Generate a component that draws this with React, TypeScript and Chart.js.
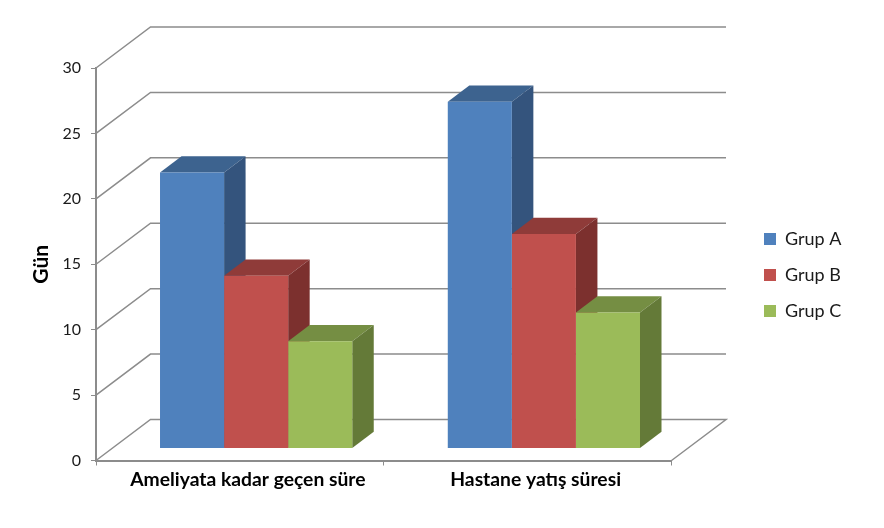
import React, { useEffect, useRef } from "react";
import { Chart, registerables } from "chart.js";

Chart.register(...registerables);

const categories = ["Ameliyata kadar geçen süre", "Hastane yatış süresi"];
const seriesNames = ["Grup A", "Grup B", "Grup C"];
const grupA = [21.1, 26.5];
const grupB = [13.2, 16.4];
const grupC = [8.2, 10.4];
const faceColors = ["#4F81BD", "#C0504D", "#9BBB59"];
const topColors = ["#3D638F", "#8F3B39", "#758E43"];
const sideColors = ["#34547D", "#7C302E", "#647A38"];
const yTicks = [0, 5, 10, 15, 20, 25, 30];
const yTitle = "Gün";

const LINE = "#8C8C8C";
const WALL = { dx: 54.5, dy: -41 };
const BAR_SHIFT = { dx: 16.25, dy: -12 };
const BAR_DEPTH = { dx: 21.5, dy: -16.3 };
const FONT = "Lato, 'Open Sans', sans-serif";

const poly = (ctx: CanvasRenderingContext2D, pts: number[][], fill: string) => {
  ctx.beginPath();
  pts.forEach(([x, y], i) => (i ? ctx.lineTo(x, y) : ctx.moveTo(x, y)));
  ctx.closePath();
  ctx.fillStyle = fill;
  ctx.fill();
};

const threeD = {
  id: "threeD",
  beforeDraw(chart: any) {
    const l = chart.legend;
    const h = l.bottom - l.top;
    l.left = 746;
    l.right = 746 + l.width;
    l.top = 275 - h / 2;
    l.bottom = 275 + h / 2;
  },
  beforeDatasetsDraw(chart: any) {
    const { ctx, chartArea, scales } = chart;
    ctx.save();
    ctx.strokeStyle = LINE;
    ctx.lineWidth = 1.5;
    yTicks.forEach((v) => {
      const y = scales.y.getPixelForValue(v);
      ctx.beginPath();
      ctx.moveTo(chartArea.left, y);
      ctx.lineTo(chartArea.left + WALL.dx, y + WALL.dy);
      ctx.lineTo(chartArea.right + WALL.dx, y + WALL.dy);
      if (v === 0) ctx.lineTo(chartArea.right, y);
      ctx.stroke();
    });
    ctx.restore();

    // Top and side faces go under the library's front faces, series by series.
    ctx.save();
    ctx.translate(BAR_SHIFT.dx, BAR_SHIFT.dy);
    const { dx, dy } = BAR_DEPTH;
    seriesNames.forEach((_, i) => {
      chart.getDatasetMeta(i).data.forEach((bar: any) => {
        const p = bar.getProps(["x", "y", "base", "width"]);
        const l = p.x - p.width / 2;
        const r = p.x + p.width / 2;
        poly(ctx, [[l, p.y], [l + dx, p.y + dy], [r + dx, p.y + dy], [r, p.y]], topColors[i]);
        poly(ctx, [[r, p.y], [r + dx, p.y + dy], [r + dx, p.base + dy], [r, p.base]], sideColors[i]);
      });
    });
    ctx.restore();
  },
  beforeDatasetDraw(chart: any) {
    chart.ctx.save();
    chart.ctx.translate(BAR_SHIFT.dx, BAR_SHIFT.dy);
  },
  afterDatasetDraw(chart: any) {
    chart.ctx.restore();
  },
};

export default function App() {
  const ref = useRef<HTMLCanvasElement>(null);
  useEffect(() => {
    const chart = new Chart(ref.current!, {
      type: "bar",
      data: {
        labels: categories,
        datasets: [grupA, grupB, grupC].map((data, i) => ({
          label: seriesNames[i],
          data,
          backgroundColor: faceColors[i],
          borderWidth: 0,
          categoryPercentage: 0.668,
          barPercentage: 1,
        })),
      },
      options: {
        responsive: false,
        animation: false,
        devicePixelRatio: 1,
        layout: { padding: { top: 68, right: 107, bottom: 0, left: 0 } },
        plugins: {
          tooltip: { enabled: false },
          legend: {
            position: "right",
            labels: {
              boxWidth: 12,
              boxHeight: 12,
              padding: 18,
              color: "#1A1A1A",
              font: { family: FONT, size: 18 },
            },
          },
        },
        scales: {
          x: {
            afterFit: (s: any) => { s.height = 67.5; },
            grid: { drawOnChartArea: false, drawTicks: true, tickLength: 5, color: LINE, offset: true },
            border: { color: LINE, width: 2 },
            ticks: { color: "#000", padding: 3, labelOffset: 8, font: { family: FONT, size: 19.3, weight: "bold" } },
          },
          y: {
            min: 0,
            max: 30,
            afterFit: (s: any) => { s.width = 96; },
            grid: { drawOnChartArea: false, drawTicks: true, tickLength: 5, color: LINE },
            border: { color: LINE, width: 2 },
            ticks: { stepSize: 5, color: "#1A1A1A", padding: 10, font: { family: FONT, size: 16 } },
            title: {
              display: true,
              text: yTitle,
              color: "#000",
              padding: { top: 29, bottom: 0 },
              font: { family: FONT, size: 21, weight: "bold" },
            },
          },
        },
      },
      plugins: [threeD],
    } as any);
    return () => chart.destroy();
  }, []);
  return (
    <div style={{ position: "fixed", left: 0, top: 0, width: 884, height: 528, background: "#fff" }}>
      <canvas ref={ref} width={884} height={528} style={{ display: "block" }} />
    </div>
  );
}
